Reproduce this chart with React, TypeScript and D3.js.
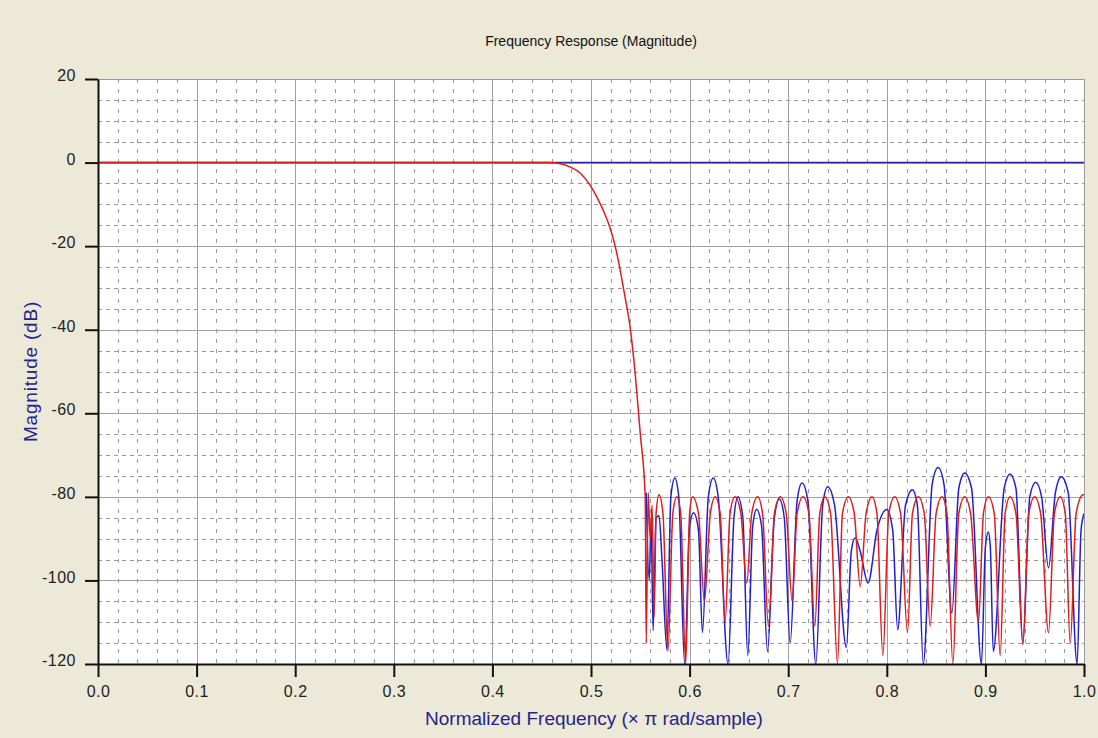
import React, { useRef, useEffect } from "react";
import * as d3 from "d3";

// axis ticks
const xTicks = [0, 0.1, 0.2, 0.3, 0.4, 0.5, 0.6, 0.7, 0.8, 0.9, 1.0];
const yTicks = [-120, -100, -80, -60, -40, -20, 0, 20];

// blue: flat 0 dB trace over the whole band
const blueFlatFreq = [0, 1.0];
const blueFlatMag = [0, 0];

// blue: stopband ripple
const blueFreq = [
  0.556, 0.559, 0.561, 0.563, 0.566, 0.569, 0.572, 0.577,
  0.581, 0.585, 0.589, 0.595,
  0.600, 0.604, 0.609, 0.613,
  0.619, 0.624, 0.629, 0.639,
  0.645, 0.649, 0.654, 0.659,
  0.664, 0.668, 0.673, 0.679,
  0.686, 0.691, 0.696, 0.702,
  0.709, 0.714, 0.720, 0.728,
  0.735, 0.740, 0.747, 0.759,
  0.764, 0.768, 0.773, 0.781,
  0.790, 0.800, 0.806, 0.811,
  0.819, 0.826, 0.831, 0.837,
  0.846, 0.852, 0.858, 0.866,
  0.873, 0.879, 0.886, 0.896,
  0.900, 0.903, 0.905, 0.908,
  0.919, 0.925, 0.931, 0.938,
  0.945, 0.951, 0.957, 0.964,
  0.971, 0.977, 0.984, 0.993,
  0.997, 1.0,
];
const blueMag = [
  -79, -100, -86, -112, -85, -84.5, -95, -116.6,
  -80, -75.5, -80, -120,
  -87, -83.8, -88, -112.5,
  -80, -75.5, -80, -120,
  -85, -80, -85, -118,
  -87, -83, -87, -117,
  -85, -80.5, -85, -115,
  -81, -76.7, -81, -120,
  -82, -77.6, -82, -116,
  -93, -89.8, -93, -100.6,
  -88, -83, -88, -111.8,
  -82, -78.3, -82, -120,
  -77, -73, -77, -107.8,
  -78, -74.3, -78, -120,
  -92, -88.4, -92, -117,
  -78, -74.5, -78, -115,
  -80, -76.5, -80, -97,
  -79, -75.2, -79, -120,
  -88, -84,
];

// red: passband, transition and equiripple stopband
const redFreq = [
  0, 0.456, 0.469, 0.479, 0.489, 0.499, 0.509, 0.514, 0.519, 0.524, 0.529, 0.534, 0.540, 0.545, 0.550, 0.555,
  0.556, 0.558, 0.560, 0.562, 0.564,
  0.566, 0.569, 0.573, 0.578,
  0.583, 0.587, 0.591, 0.596,
  0.600, 0.603, 0.609, 0.615,
  0.621, 0.626, 0.631, 0.636,
  0.641, 0.646, 0.652, 0.658,
  0.663, 0.669, 0.674, 0.680,
  0.686, 0.692, 0.698, 0.704,
  0.709, 0.715, 0.721, 0.727,
  0.732, 0.737, 0.743, 0.750,
  0.755, 0.761, 0.767, 0.773,
  0.779, 0.785, 0.790, 0.796,
  0.802, 0.808, 0.814, 0.821,
  0.826, 0.832, 0.838, 0.844,
  0.850, 0.856, 0.861, 0.867,
  0.873, 0.879, 0.885, 0.893,
  0.898, 0.903, 0.909, 0.915,
  0.920, 0.925, 0.931, 0.938,
  0.944, 0.950, 0.956, 0.964,
  0.970, 0.976, 0.981, 0.986,
  0.992, 0.999, 1.0,
];
const redMag = [
  0, 0, -0.3, -1.1, -2.5, -5.4, -9.7, -12.3, -15.4, -19.5, -25, -31.5, -40, -51, -65, -80,
  -115, -79, -90, -82, -108.7,
  -84, -79.5, -84, -117,
  -84, -80, -84, -120,
  -84, -80, -84, -105,
  -84, -80, -84, -110,
  -84, -80, -84, -100.6,
  -84, -80, -84, -111,
  -84, -80, -84, -105,
  -84, -80, -84, -111,
  -84, -80, -84, -120,
  -84, -80, -84, -101.5,
  -84, -80, -84, -118,
  -84, -80, -84, -112.5,
  -84, -80, -84, -111,
  -84, -80, -84, -120,
  -84, -80, -84, -110,
  -84, -80, -84, -118,
  -84, -80, -84, -115.4,
  -84, -80, -84, -112.5,
  -84, -80, -84, -115,
  -84, -79.5, -79.5,
];

const width = 1098;
const height = 738;
const font = "'Liberation Sans', Arial, sans-serif";

export default function App() {
  const ref = useRef<SVGSVGElement>(null);

  useEffect(() => {
    const svg = d3.select(ref.current);
    svg.selectAll("*").remove();

    const margin = { top: 79, right: 14, bottom: 74, left: 98 };
    const x = d3.scaleLinear().domain([0, 1]).range([margin.left, width - margin.right]);
    const y = d3.scaleLinear().domain([-120, 20]).range([height - margin.bottom, margin.top]);

    // background
    svg.append("rect").attr("width", width).attr("height", height).attr("fill", "#ECE9D8");
    svg.append("rect")
      .attr("x", x(0)).attr("y", y(20))
      .attr("width", x(1) - x(0)).attr("height", y(-120) - y(20))
      .attr("fill", "#fff");

    // minor grid (dashed)
    const minorX = d3.range(0.02, 1, 0.02).filter(v => Math.abs(v * 10 - Math.round(v * 10)) > 1e-6);
    const minorY = d3.range(-115, 20, 5).filter(v => v % 20 !== 0);
    const grid = svg.append("g");
    grid.selectAll(".mx").data(minorX).enter().append("line")
      .attr("x1", d => Math.round(x(d)) + 0.5).attr("x2", d => Math.round(x(d)) + 0.5)
      .attr("y1", y(20)).attr("y2", y(-120))
      .attr("stroke", "#9a9a9a").attr("stroke-dasharray", "4,6");
    grid.selectAll(".my").data(minorY).enter().append("line")
      .attr("x1", x(0)).attr("x2", x(1))
      .attr("y1", d => Math.round(y(d)) + 0.5).attr("y2", d => Math.round(y(d)) + 0.5)
      .attr("stroke", "#9a9a9a").attr("stroke-dasharray", "4,4");

    // major grid
    grid.selectAll(".gx").data(xTicks.slice(1, -1)).enter().append("line")
      .attr("x1", d => Math.round(x(d)) + 0.5).attr("x2", d => Math.round(x(d)) + 0.5)
      .attr("y1", y(20)).attr("y2", y(-120))
      .attr("stroke", "#a0a0a0");
    grid.selectAll(".gy").data(yTicks.slice(1, -1)).enter().append("line")
      .attr("x1", x(0)).attr("x2", x(1))
      .attr("y1", d => Math.round(y(d)) + 0.5).attr("y2", d => Math.round(y(d)) + 0.5)
      .attr("stroke", "#a0a0a0");

    // top / right frame
    svg.append("path")
      .attr("d", `M${x(0)},${y(20) + 0.5}H${x(1) + 0.5}V${y(-120)}`)
      .attr("fill", "none").attr("stroke", "#9a9a9a");

    // curves
    const clip = svg.append("clipPath").attr("id", "plot-clip");
    clip.append("rect")
      .attr("x", x(0)).attr("y", y(20))
      .attr("width", x(1) - x(0)).attr("height", y(-120) - y(20));

    const line = d3.line<[number, number]>()
      .x(d => x(d[0]))
      .y(d => y(d[1]))
      .curve(d3.curveMonotoneX);

    const lines = svg.append("g").attr("clip-path", "url(#plot-clip)");
    const series = [
      { f: blueFlatFreq, m: blueFlatMag, color: "#2a2aa0" },
      { f: blueFreq, m: blueMag, color: "#1f1fd0" },
      { f: redFreq, m: redMag, color: "#dc1e1e" },
    ];
    series.forEach(s => {
      const pts = s.f.map((v, i) => [v, s.m[i]] as [number, number]);
      lines.append("path")
        .attr("d", line(pts))
        .attr("fill", "none")
        .attr("stroke", s.color)
        .attr("stroke-width", 1.5)
        .attr("stroke-linejoin", "round");
    });

    // axes
    const xAxis = d3.axisBottom(x).tickValues(xTicks).tickSize(13).tickSizeOuter(0).tickPadding(9)
      .tickFormat(d3.format(".1f") as any);
    const yAxis = d3.axisLeft(y).tickValues(yTicks).tickSize(13).tickSizeOuter(0).tickPadding(9)
      .tickFormat((d: any) => String(d));

    const gx = svg.append("g").attr("transform", `translate(0,${y(-120)})`).call(xAxis);
    const gy = svg.append("g").attr("transform", `translate(${x(0)},0)`).call(yAxis);
    [gx, gy].forEach(g => {
      g.select(".domain").attr("stroke", "#111").attr("stroke-width", 2);
      g.selectAll(".tick line").attr("stroke", "#111").attr("stroke-width", 2);
      g.selectAll(".tick text")
        .attr("font-family", font).attr("font-size", 16).attr("fill", "#222")
        .attr("letter-spacing", "0.5px");
    });
    gy.selectAll(".tick text").attr("dy", "0.1em");

    // labels
    svg.append("text")
      .attr("x", 591).attr("y", 46)
      .attr("text-anchor", "middle")
      .attr("font-family", font).attr("font-size", 14).attr("fill", "#111")
      .text("Frequency Response (Magnitude)");

    svg.append("text")
      .attr("x", 594).attr("y", 725)
      .attr("text-anchor", "middle")
      .attr("font-family", font).attr("font-size", 19).attr("fill", "#24248c")
      .text("Normalized Frequency (\u00d7 \u03c0 rad/sample)");

    svg.append("text")
      .attr("transform", `translate(37,${(y(20) + y(-120)) / 2}) rotate(-90)`)
      .attr("text-anchor", "middle")
      .attr("font-family", font).attr("font-size", 19).attr("fill", "#24248c")
      .attr("letter-spacing", "0.8px")
      .text("Magnitude (dB)");
  }, []);

  return (
    <svg
      ref={ref}
      width={width}
      height={height}
      style={{ position: "absolute", left: 0, top: 0 }}
    />
  );
}
